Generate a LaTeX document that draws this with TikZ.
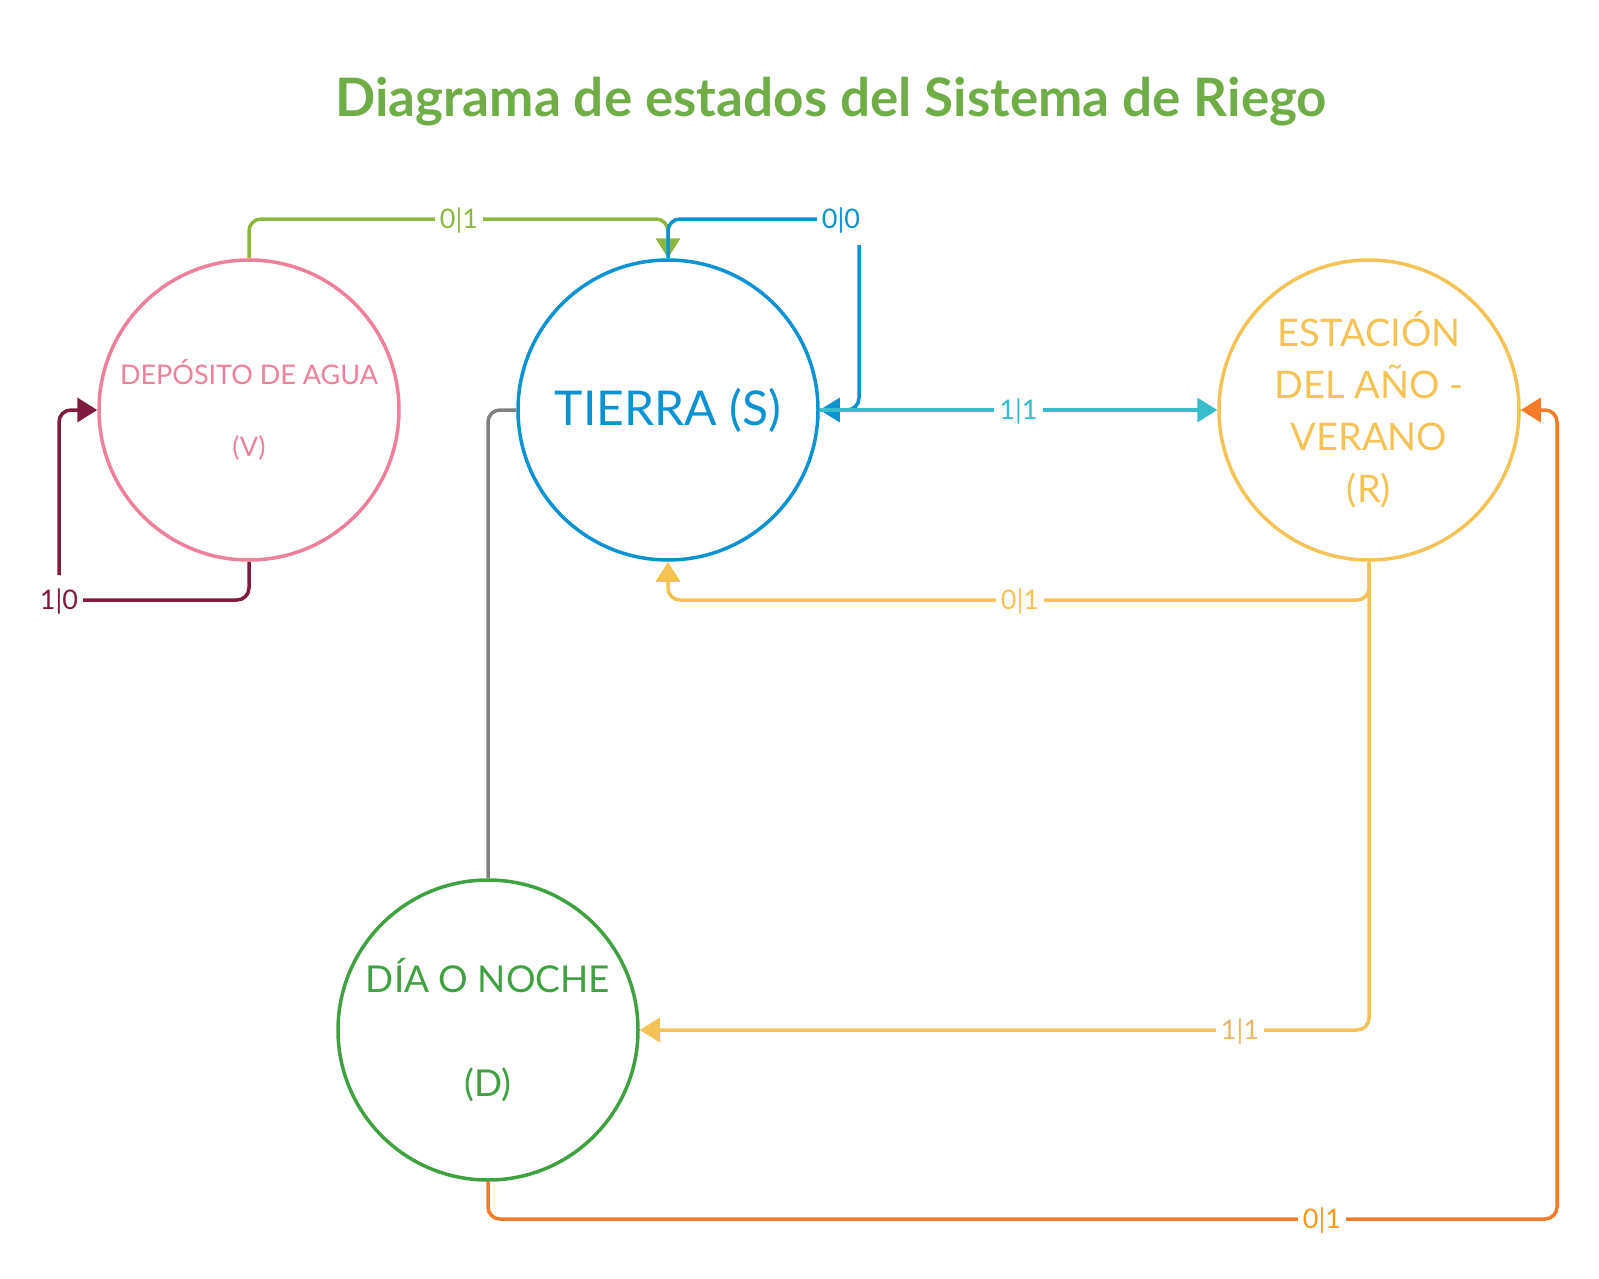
\documentclass[tikz,border=0pt]{standalone}
\usepackage{fontspec}
\setmainfont{Lato}
\usetikzlibrary{arrows.meta}
\definecolor{titverde}{RGB}{112,173,71}
\definecolor{rosa}{RGB}{239,128,155}
\definecolor{azul}{RGB}{10,147,208}
\definecolor{amarillo}{RGB}{245,195,85}
\definecolor{verdeosc}{RGB}{63,161,66}
\definecolor{verdelima}{RGB}{141,183,61}
\definecolor{cian}{RGB}{54,188,203}
\definecolor{granate}{RGB}{126,27,62}
\definecolor{naranja}{RGB}{244,123,40}
\definecolor{naranjaet}{RGB}{243,154,26}
\definecolor{amarilloet}{RGB}{235,183,106}

\begin{document}
\begin{tikzpicture}[x=1pt, y=-1pt,
    estado/.style={circle, draw, line width=3.5pt, minimum size=300pt, inner sep=0pt, align=center},
    trans/.style={line width=3.5pt, rounded corners=12pt},
    flecha/.style={-{Triangle[length=20pt, width=24pt]}},
    etiq/.style={fill=white, inner sep=5pt, sharp corners, text height=19pt, text depth=0pt,
        font=\fontsize{27}{27}\selectfont}]
    \useasboundingbox (0,0) rectangle (1599,1279);

    \node[font=\fontsize{53}{60}\selectfont\bfseries, titverde] (titulo) at (831,102)
        {Diagrama de estados del Sistema de Riego};

    % Estados
    \node[estado, rosa, font=\fontsize{27}{72}\selectfont] (V) at (249,410) {DEPÓSITO DE AGUA\\(V)};
    \node[estado, azul, font=\fontsize{48}{58}\selectfont] (S) at (668,410) {TIERRA (S)};
    \node[estado, amarillo, font=\fontsize{38}{52}\selectfont] (R) at (1369,410) {ESTACIÓN\\DEL AÑO -\\VERANO\\(R)};
    \node[estado, verdeosc, font=\fontsize{37}{104}\selectfont] (D) at (488,1030) {DÍA O NOCHE\\(D)};

    % Etiquetas en las esquinas de los lazos
    \node[etiq, text=azul] (l00) at (841,219) {0|0};
    \node[etiq, text=granate] (l10) at (59,600) {1|0};
    \coordinate (c00) at (859,245);
    \coordinate (c10) at (59,575);
    \coordinate (cR) at (1557,410);

    % Transiciones
    \draw[trans, flecha, verdelima] (V.north) |- (459,219) node[etiq] {0|1} -| (S.north);
    \draw[trans, azul] (S.north) |- (l00.west);
    \draw[trans, flecha, azul] (c00) |- (S.east);
    \draw[trans, flecha, cian] (S.east) -- node[etiq] {1|1} (R.west);
    \draw[trans, flecha, amarillo] (R.south) |- (1020,600) node[etiq] {0|1} -| (S.south);
    \draw[trans, flecha, amarillo] (R.south) |- (1240,1030) node[etiq, text=amarilloet] {1|1} -- (D.east);
    \draw[trans, gray] (D.north) |- (S.west);
    \draw[trans, flecha, naranja] (D.south) |- (1322,1219) node[etiq, text=naranjaet] {0|1} -| (cR) -- (R.east);
    \draw[trans, granate] (V.south) |- (l10.east);
    \draw[trans, flecha, granate] (c10) |- (V.west);
\end{tikzpicture}
\end{document}
